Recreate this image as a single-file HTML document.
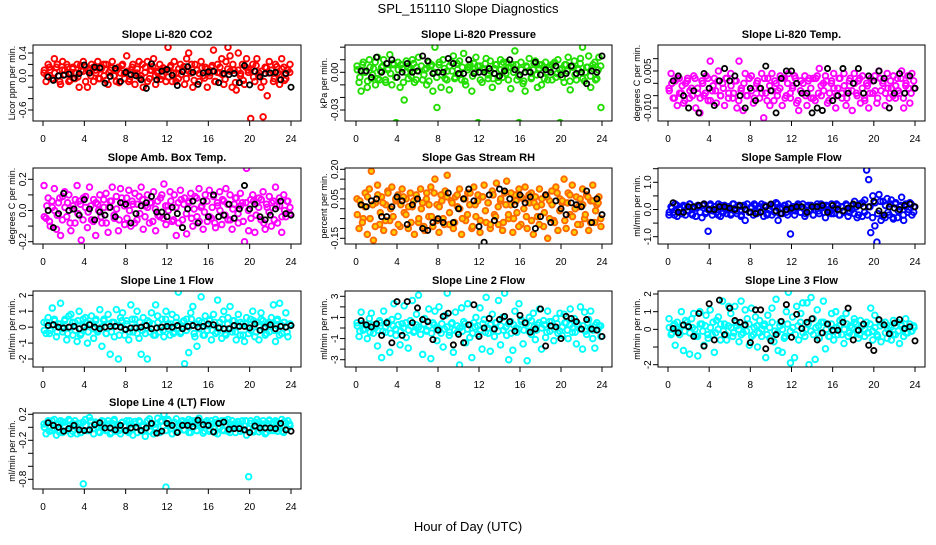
<!DOCTYPE html>
<html><head><meta charset="utf-8"><style>
html,body{margin:0;padding:0;background:#fff}
svg text{font-family:"Liberation Sans",Arial,sans-serif}
</style></head><body>
<svg id="chart" width="936" height="540" xmlns="http://www.w3.org/2000/svg">
<text x="468" y="13" text-anchor="middle" font-size="13">SPL_151110  Slope Diagnostics</text>
<text x="468" y="531" text-anchor="middle" font-size="13">Hour of Day (UTC)</text>
</svg>
<script>
const xTicks=[0,4,8,12,16,20,24];
const panelTitles=["Slope Li-820 CO2","Slope Li-820 Pressure","Slope Li-820 Temp.","Slope Amb. Box Temp.","Slope Gas Stream RH","Slope Sample Flow","Slope Line 1 Flow","Slope Line 2 Flow","Slope Line 3 Flow","Slope Line 4 (LT) Flow"];
const yTitles=["Licor ppm per min.","kPa per min.","degrees C per min.","degrees C per min.","percent per min.","ml/min per min.","ml/min per min.","ml/min per min.","ml/min per min.","ml/min per min."];
const yTickVals=[[0.4,0.2,0,-0.2,-0.4,-0.6],[0.02,0.01,0,-0.01,-0.02,-0.03],[0.01,0.005,0,-0.005,-0.01],[0.2,0.1,0,-0.1,-0.2],[0.2,0.15,0.1,0.05,0,-0.05,-0.1,-0.15],[1.5,1,0.5,0,-0.5,-1],[2,1,0,-1,-2],[3,2,1,0,-1,-2,-3],[2,1,0,-1,-2],[0.2,0,-0.2,-0.4,-0.6,-0.8]];
const yTickLabels=[["0.4","","0.0","","","-0.6"],["","","0.00","","","-0.03"],["","0.005","","","-0.010"],["0.2","","0.0","","-0.2"],["0.20","","","0.05","","","","-0.15"],["","1.0","","0.0","","-1.0"],["2","1","0","-1","-2"],["3","","1","","-1","","-3"],["2","1","0","","-2"],["0.2","","-0.2","","","-0.8"]];
const yCal=[[0.4,53,-0.6,110],[0,72.3,-0.03,110],[0.005,71,-0.01,108],[0.2,179.3,-0.2,241.7],[0.2,169.3,-0.15,238.3],[1,182.3,-1,236.7],[2,295.3,-2,359],[3,296.3,-3,359.7],[2,294,-2,364.7],[0.2,414.3,-0.8,479.3]];
const colors=["#ff0000","#22dd00","#ff00ff","#ff00ff","#ff6a00","#0000ff","#00ffff","#00ffff","#00ffff","#00ffff"];

const co2Vals=[0.05,-0.1,0.2,0.1,-0.05,0.3,0.15,0,-0.15,0.25,0.1,0.2,-0.1,0.05,0.15,-0.05,0.2,-0.2,0.1,0.25,0.15,-0.2,0.05,0.2,-0.1,0.1,0.25,-0.05,0.15,0,0.2,-0.15,0.1,0.25,0,-0.1,0.15,0.05,0.2,-0.05,0.35,-0.1,0.1,0.2,-0.15,0.05,0.25,0,-0.2,0.15,0.25,-0.05,0.1,0.3,-0.15,0.05,0.2,0,0.1,-0.1,0.5,0.15,-0.1,0.25,0.05,-0.05,0.2,0.1,-0.15,0.3,0.4,0.05,-0.2,0.2,0.1,-0.1,0.25,0,0.15,-0.2,0.05,0.15,0.45,-0.1,0.2,0.05,0.3,-0.15,0.25,0.5,0.35,-0.2,0.1,-0.25,0.4,0,0.2,-0.15,0.3,0.1,-0.75,0.2,-0.1,0.3,0.05,-0.2,-0.72,0.15,-0.35,0.25,0.1,-0.1,0.2,0.05,-0.15,0.3,0.15,-0.05,0.1,0.2];
const co2Core=[0.1,0,0.15,-0.05,0.05,0.2,-0.1,0.1,0.02,0.15,-0.08,0.12,0.05,-0.02,0.18,0.08,-0.1,0.1,0,0.15,0.05,-0.05,0.12,0.2,-0.08,0.06,0.14,0,0.1,-0.12,0.18,0.04,0.08,-0.06,0.15,0.02,0.12,-0.04,0.2,0.06,-0.1,0.1,0.16,0,0.08,-0.06,0.14,0.1,-0.02,0.18,0.05,-0.1,0.12,0.02,0.16,-0.05,0.08,0.2,-0.08,0.1,0.04,0.14,-0.04,0.12,0,0.18,-0.1,0.06,0.15,0.02,-0.06,0.12,0.08,0.2,-0.12,0.1,0.04,-0.08,0.15,0.06,0.12,-0.02,0.18,0,0.08,-0.1,0.14,0.05,0.1,-0.05,0.16,0.02,0.12,-0.08,0.1,0.06];
const co2Black=[-0.02,-0.08,0,0.01,0.03,-0.04,0.04,0.19,0.05,0.15,0.14,-0.13,-0.01,0.13,-0.1,0.06,0.02,0,-0.07,-0.22,0.21,-0.07,0.08,0.11,0.01,-0.17,0.07,0.16,0.06,-0.15,0.05,0.07,0.08,-0.12,0.04,0.02,0.04,-0.12,0.18,-0.16,0.08,-0.02,0.04,0.05,0.06,-0.07,0.04,-0.2];
const presVals=[0.005,-0.008,-0.015,0.008,0,-0.012,0.01,-0.005,0.003,-0.01,0.012,-0.006,0.004,0.01,-0.008,0.002,0.014,-0.01,0.006,-0.04,0.008,-0.012,0.003,-0.022,0.009,-0.005,0.002,0.01,-0.008,0.004,0.012,0.025,-0.006,0.002,-0.01,0.008,0.005,-0.015,0.02,-0.028,0.006,-0.012,0.01,-0.005,0.001,-0.014,0.008,0.013,-0.004,0.002,0.009,-0.006,0.015,-0.01,0.004,0.004,-0.015,0.007,0.012,-0.04,0.005,-0.008,0.002,0.011,-0.005,0.009,-0.012,0.003,0.006,-0.007,0.01,-0.004,0.002,0.008,0.004,-0.013,0.006,0.017,-0.006,-0.04,0.008,-0.009,-0.015,0.004,0.011,-0.005,0.002,0.009,-0.012,0.006,-0.01,0.004,0.008,-0.006,0.002,0.006,0.007,-0.004,0.01,-0.04,0.003,-0.008,0.006,0.012,-0.014,0.004,0.009,-0.006,0.002,0.011,0.02,-0.007,0.004,0.013,-0.012,0.003,0.008,-0.005,0.012,-0.028];
const presCore=[0.002,-0.004,0.006,0,-0.007,0.004,-0.002,0.008,-0.005,0.001,0.005,-0.006,0.003,-0.001,0.007,-0.004,0.002,0.006,-0.008,0,0.004,-0.003,0.007,-0.006,0.001,0.005,-0.002,0.003,-0.007,0.006,0,-0.004,0.008,-0.002,0.003,-0.006,0.005,0.001,-0.005,0.007,-0.001,0.004,-0.007,0.002,0.006,-0.003,0,0.005,-0.006,0.003,0.007,-0.002,0.001,-0.005,0.006,-0.004,0.002,0.008,-0.001,-0.006,0.004,0,0.006,-0.003,0.002,-0.007,0.005,0.001,-0.004,0.007,-0.002,0.003,0.006,-0.005,0,0.004,-0.006,0.008,-0.001,0.002,-0.004,0.006,0.001,-0.007,0.005,-0.002,0.003,0.007,-0.005,0,0.004,-0.003,0.006,-0.006,0.002,0.005];
const presBlack=[0.001,0.001,-0.004,0.012,0,0.007,0.01,-0.004,0,0.007,0,0.001,0.013,0.009,-0.001,0,0,0.011,0.007,-0.001,-0.001,0.01,-0.001,0,0,0.003,-0.001,-0.003,0.001,0.01,0.002,-0.002,0,0,0.008,-0.002,0.002,0,0.005,-0.002,-0.001,0.005,-0.001,0,-0.009,0.001,0,0.013];
const tempVals=[-0.002,0.004,-0.006,0.001,-0.009,0.002,-0.004,-0.008,0,0.002,-0.006,-0.002,0.003,-0.01,-0.004,-0.012,0.001,-0.005,0.003,-0.007,0.009,-0.003,0.002,-0.008,0.005,-0.005,0,-0.009,0.002,-0.004,0.004,-0.006,0.001,-0.01,0.009,-0.003,-0.011,0.004,-0.005,0.002,0.003,-0.008,-0.002,0.001,-0.006,0.004,-0.014,-0.004,0.002,-0.009,0.004,-0.007,0,-0.003,0.003,-0.009,0.002,-0.005,0.004,-0.006,-0.002,0.003,-0.008,-0.011,0.001,-0.004,0.003,-0.009,0.002,-0.006,0.002,-0.007,0.003,0.006,-0.005,0,0.003,-0.008,-0.004,0.001,0.004,-0.01,-0.002,0.002,-0.006,0.004,-0.009,-0.003,0.002,-0.011,0.004,-0.004,0.001,-0.008,0.003,-0.006,0,-0.01,0.002,-0.004,0.003,-0.008,0.005,-0.003,0.001,-0.009,0.004,-0.006,-0.002,0.003,-0.006,0.002,-0.004,0.005,-0.01,-0.001,0.003,-0.008,0.004,-0.002];
const tempCore=[-0.003,0,-0.006,0.002,-0.004,-0.001,-0.007,0.001,-0.003,-0.005,0.002,-0.002,-0.006,0,-0.004,0.002,-0.007,-0.001,-0.003,0.001,-0.005,-0.002,0.002,-0.006,-0.001,-0.004,0.001,-0.007,-0.002,0,-0.005,0.002,-0.003,-0.006,0,-0.002,-0.004,0.002,-0.007,-0.001,-0.003,0.001,-0.005,-0.002,0.002,-0.006,0,-0.004,-0.001,0.002,-0.007,-0.003,0,-0.005,0.001,-0.002,-0.006,0.002,-0.004,-0.001,-0.003,0.001,-0.007,0,-0.002,-0.005,0.002,-0.004,-0.001,-0.006,0.001,-0.003,0,-0.005,0.002,-0.002,-0.007,-0.001,-0.004,0.001,-0.003,-0.006,0.002,0,-0.004,-0.002,0.001,-0.005,-0.001,-0.003,0.002,-0.006,0,-0.002,-0.004,0.001];
const tempBlack=[0.001,0.003,-0.005,-0.01,-0.003,-0.012,0.004,-0.002,-0.009,0.001,0.006,0.001,0.003,-0.005,-0.01,-0.002,-0.007,-0.002,0.007,-0.003,-0.012,0.002,0.005,0.005,0,-0.004,-0.004,-0.012,-0.01,-0.011,0.006,-0.007,-0.005,0.006,-0.004,0,0.006,-0.004,0.003,0.001,0.005,0.002,-0.01,-0.004,0.004,-0.004,0.003,-0.002];
const ambVals=[0.16,-0.05,0.08,-0.1,0.02,0.14,-0.12,0.05,-0.16,0.09,0.12,-0.04,0.1,-0.13,0.03,-0.08,0.16,0.06,-0.19,0.08,0.02,-0.11,0.15,-0.06,0.07,-0.16,0.04,0.1,-0.08,0.02,0.11,-0.14,0.06,0.15,-0.05,0.09,-0.13,0.14,0.05,-0.09,0.08,0.13,-0.1,0.04,0.11,-0.06,0.09,0.15,-0.12,0.03,0.1,-0.08,0.05,0.12,-0.13,0.06,-0.04,0.1,0.17,-0.09,0.03,0.12,-0.07,0.1,-0.16,0.05,0.13,-0.06,0.08,-0.15,0.06,0.11,-0.1,0.09,-0.04,0.14,0.02,-0.12,0.1,-0.07,0.13,-0.05,0.09,-0.11,0.03,0.12,-0.09,0.06,0.14,-0.06,0.1,-0.12,0.04,0.08,-0.08,0.11,0.05,-0.2,0.27,-0.13,0.07,0.1,-0.14,0.05,0.08,-0.06,0.12,-0.12,0.02,0.09,-0.1,0.06,0.15,-0.08,0.03,-0.14,0.1,-0.04,0.06,0.02];
const ambCore=[-0.04,0.03,-0.07,0.06,0,-0.03,0.08,-0.06,0.02,0.05,-0.08,0.01,0.07,-0.02,0.04,-0.06,0.09,-0.01,0.03,-0.07,0.05,0,-0.04,0.07,-0.08,0.02,0.06,-0.03,0.01,-0.06,0.08,0.03,-0.05,0,0.06,-0.08,0.04,-0.02,0.07,-0.04,0.02,0.05,-0.07,0.01,-0.03,0.08,-0.05,0.03,0,0.06,-0.06,0.02,-0.08,0.07,0.04,-0.02,0.05,-0.05,0.01,0.08,-0.07,0.03,-0.01,0.06,-0.04,0.02,-0.08,0.05,0,0.07,-0.03,0.04,-0.06,0.01,0.08,-0.02,0.03,-0.07,0.05,0,-0.05,0.06,-0.03,0.02,0.07,-0.08,0.04,-0.01,0.05,-0.06,0.03,0.08,-0.04,0,0.06,-0.02];
const ambBlack=[0,-0.11,-0.02,0.11,0,0.01,-0.03,0.07,0.01,-0.06,-0.01,-0.03,0.02,-0.04,0.05,0.04,-0.08,-0.02,0.03,0.05,0.09,-0.01,-0.01,-0.04,0.02,-0.02,-0.11,0.01,0.06,-0.08,0.06,-0.04,0.1,-0.04,-0.03,0.04,-0.05,0.01,0.16,0.01,0.04,-0.04,-0.06,-0.03,0.01,0.06,-0.02,-0.03];
const rhVals=[0.05,-0.1,0.02,-0.05,0.08,-0.13,0.1,0.19,-0.16,0.03,0.12,-0.08,0.06,-0.11,0.02,0.09,-0.06,0.11,-0.12,0.04,0.07,-0.09,0.1,-0.02,0.05,-0.1,0.08,0.01,-0.13,0.06,-0.07,0.1,0.03,-0.11,0.08,-0.04,0.11,-0.09,0.15,0.02,-0.12,0.07,-0.05,0.09,0.17,-0.08,0.04,-0.1,0.06,0.01,0.1,-0.13,0.05,-0.06,0.08,0.02,-0.1,0.11,-0.04,0.07,-0.12,0.06,0.12,-0.07,0.03,-0.1,0.09,-0.03,0.13,-0.08,0.04,-0.11,0.08,0.14,-0.05,0.02,-0.12,0.07,-0.02,0.1,-0.08,0.05,0.11,-0.1,0.03,0.08,-0.13,0.06,-0.04,0.1,0.02,-0.09,0.07,-0.15,0.04,0.09,-0.06,0.11,-0.11,0.05,0.03,0.15,-0.1,0.08,-0.03,0.12,-0.12,0.06,0.01,-0.08,0.1,-0.05,0.07,-0.11,0.04,0.12,-0.07,0.02,0.06,-0.09];
const rhCore=[-0.03,0.04,-0.07,0.01,0.06,-0.05,0.02,-0.09,0.07,-0.02,0.03,-0.06,0.08,0,-0.04,0.05,-0.08,0.02,0.06,-0.03,0.01,-0.07,0.04,0.07,-0.05,0,-0.09,0.05,0.02,-0.04,0.08,-0.06,0.01,0.04,-0.08,0.06,-0.02,0.03,-0.07,0.07,0,-0.05,0.05,-0.03,0.08,-0.09,0.02,0.04,-0.06,0.06,-0.01,0.03,-0.08,0.07,-0.04,0.01,0.05,-0.07,0.02,-0.03,0.08,-0.05,0.04,-0.09,0.06,0,-0.04,0.07,-0.06,0.03,0.01,-0.08,0.05,-0.02,0.06,-0.05,0.02,-0.07,0.08,-0.01,0.04,-0.06,0.03,0.07,-0.04,0,-0.08,0.05,0.02,-0.03,0.06,-0.07,0.04,-0.01,0.03,-0.05];
const rhBlack=[0.02,0.01,0.04,0.05,-0.04,-0.04,0.01,0.06,0.04,-0.08,0.02,0.05,-0.1,-0.11,-0.07,-0.05,-0.07,0.08,-0.07,0,0.05,0.1,0.04,-0.09,-0.17,0.07,-0.06,0.1,0.09,0.05,0.02,0.07,0.03,0.06,-0.1,-0.04,0.07,-0.07,0.04,0,-0.03,0.03,0.02,0.01,0.09,-0.07,0.05,-0.03];
const sampVals=[-0.2,0.1,-0.1,0.2,-0.25,0.05,-0.15,0.15,-0.2,0.1,0.2,-0.15,0.05,-0.25,0.15,0.1,-0.3,0.2,-0.1,-0.8,0.15,-0.2,0.1,-0.1,0.2,-0.25,0.05,0.15,-0.15,0.1,-0.2,0.2,0.05,-0.15,0.15,-0.25,0.1,-0.4,0.2,-0.1,0.1,-0.2,0.15,-0.1,0.05,0.2,-0.25,0.1,-0.15,0.15,-0.2,0.1,0.25,-0.4,0.05,-0.15,0.15,-0.1,0.2,-0.9,0.1,-0.2,0.05,0.15,-0.1,0.2,-0.25,0.1,-0.05,0.15,-0.2,0.1,0.2,-0.15,0.05,0.15,-0.3,0.1,-0.1,0.2,-0.15,0.05,0.15,-0.2,0.1,-0.1,0.2,-0.25,0.05,0.15,-0.15,0.1,-0.2,0.2,0.25,-0.1,1.45,1.1,-0.85,0.5,-0.6,-1.2,0.55,-0.4,0.3,-0.3,0.4,-0.2,0.35,-0.35,0.2,-0.3,0.1,0.45,-0.4,0.2,-0.1,0.25,-0.2,0.1];
const sampCore=[-0.1,0.05,-0.2,0.15,0,-0.15,0.1,-0.05,0.2,-0.2,0.05,0.1,-0.1,0.15,-0.15,0,0.2,-0.05,0.1,-0.2,0.15,-0.1,0.05,0,-0.15,0.2,-0.05,0.1,-0.2,0.15,0,-0.1,0.05,0.2,-0.15,0.1,-0.05,0.15,-0.2,0,0.1,-0.1,0.2,-0.15,0.05,0.15,-0.2,0,0.1,-0.05,0.2,-0.1,0.05,-0.15,0.15,0,-0.2,0.1,-0.05,0.2,-0.1,0.15,0,-0.15,0.05,0.2,-0.2,0.1,-0.05,0.15,-0.1,0,0.3,-0.3,0.2,-0.25,0.35,-0.2,0.1,-0.3,0.25,-0.15,0.3,-0.25,0.15,-0.1,0.2,-0.3,0.25,-0.05,0.15,-0.2,0.1,0,0.2,-0.1];
const sampBlack=[0.25,-0.1,-0.1,0.1,0.1,0.15,0.2,0,0,0.1,0.1,0.05,0,0.15,0,-0.1,-0.15,-0.1,0.1,0.2,-0.05,-0.15,0,0.05,0.1,0.1,-0.1,0.1,0.1,0.15,-0.1,0.15,0,-0.05,0.05,0.2,0.15,0.1,0.1,0.3,-0.05,-0.2,0.1,0.05,0,0.15,0.2,0.1];
const l1Vals=[0.3,-0.4,0.6,-0.2,1.2,0.5,-0.6,0.2,1.5,-0.3,0.4,-0.8,0.7,0.8,-0.5,0.3,-0.9,1,-0.4,0.5,0.6,-1,0.2,0.7,-0.7,0.4,-0.3,1.1,-1.2,0.5,-0.4,0.8,-1.7,0.3,-0.6,1.1,-2,0.6,0.9,-0.5,0.4,-0.8,1.4,-0.3,0.5,1,-0.7,-1.7,0.6,-0.4,-2,0.3,0.9,-0.5,1.4,0.7,-0.3,0.5,-0.6,1,0.2,-0.5,0.8,-0.3,0.6,2.2,-0.4,0.3,-2.3,0.5,-1.6,0.9,1.3,-0.6,-1.2,0.4,1.9,-0.5,0.7,-0.2,0.5,-0.8,0.8,-0.4,1.7,0.3,-0.7,1,-0.5,0.6,1.3,-0.3,0.4,-0.8,0.8,-0.5,0.2,-0.9,0.6,-0.4,0.5,1,-0.6,0.3,-0.8,0.9,0.4,-0.5,0.2,-0.3,0.6,1.4,-0.9,0.5,1.5,-0.4,0.3,0.9,-0.6,0.2];
const l1Core=[-0.2,0.3,-0.4,0.1,0.4,-0.3,0.2,-0.1,0.5,-0.4,0,0.3,-0.2,0.4,-0.5,0.1,0.3,-0.3,0.2,-0.1,0.5,-0.2,0,0.4,-0.4,0.2,-0.3,0.3,0.1,-0.5,0.4,-0.1,0.2,-0.3,0.5,0,-0.4,0.3,-0.2,0.1,0.4,-0.3,0.2,-0.5,0.3,0,-0.2,0.5,-0.1,0.2,-0.4,0.3,0.1,-0.3,0.4,-0.2,0,0.5,-0.4,0.2,-0.1,0.3,-0.5,0.1,0.4,-0.2,0.3,-0.3,0,0.5,-0.4,0.2,-0.1,0.4,-0.3,0.1,0.3,-0.5,0.2,0,-0.2,0.4,-0.3,0.1,0.5,-0.1,-0.4,0.3,0.2,-0.2,0.4,-0.5,0.1,0.3,-0.3,0.2];
const l1Black=[0.1,0.15,0,-0.05,0,0.05,-0.1,0,0.15,0,-0.1,0,0.05,0.05,0,-0.15,-0.05,-0.05,0,0.1,-0.1,-0.05,0,0.05,0,0.1,-0.1,0.05,0.1,0,0.05,0.2,0.15,-0.05,-0.1,-0.1,0.1,0.05,0.05,-0.05,0.2,-0.2,0,0.15,-0.1,0.05,0,0.1];
const l2Vals=[0.5,-0.8,1.5,-0.2,0.3,-1,0.9,1.4,-0.5,0.2,-1.7,0.7,-2.8,1.6,-0.4,0.6,-2.3,0.8,2.3,-0.7,1.1,-1.6,0.4,2.1,-0.9,-1.9,0.7,2.6,-0.3,1.3,3.1,-0.6,-2.5,0.9,-0.2,1.8,-2.9,0.5,1.6,-1.2,2,-0.5,-1.8,1.2,3.3,-0.7,0.4,-2.3,1.5,-0.4,-3.5,1.9,0.6,-1.4,2.3,-0.9,-2.8,0.5,1,-0.6,1.9,-2,0.8,2.9,-0.5,-2.2,1.3,-0.8,0.5,2.6,-1.6,1,3.3,-0.7,-3,0.6,-2.1,1.6,-0.4,2.3,0.8,-1.5,0.4,-3.1,1,-0.6,1.4,-1.1,0.3,1.8,-2,0.7,-0.9,1.6,-0.3,0.6,-1.2,0.9,-0.5,1.4,-0.7,1.3,0.5,-1,1.8,-0.4,0.9,-1.5,0.3,2,-2,1.5,-0.6,0.8,1.6,-1,-1.9,0.5,0.2,-0.8];
const l2Core=[0.2,-0.3,0.4,-0.1,0.1,-0.4,0.3,0,-0.2,0.5,-0.3,0.1,0.4,-0.5,0.2,-0.1,0.3,-0.3,0,0.5,-0.2,0.2,-0.4,0.3,0.1,-0.1,0.4,-0.3,0.2,-0.5,0.3,0,-0.2,0.4,-0.1,0.1,-0.4,0.5,-0.2,0.2,0,-0.3,0.4,-0.1,0.3,-0.5,0.1,0.2,-0.2,0.4,-0.4,0,0.3,-0.1,0.5,-0.3,0.2,-0.2,0.1,0.4,-0.5,0.3,0,-0.1,0.6,-0.2,0.4,-0.3,0.7,0.1,-0.2,0.5,0,0.3,-0.4,0.6,0.2,-0.1,0.4,-0.3,0.1,0.5,-0.2,0.3,0,-0.4,0.4,-0.1,0.2,-0.3,0.5,0,-0.2,0.3,-0.1,0.2];
const l2Black=[0.7,0.3,0.1,0.4,-0.7,0.5,-1.4,2.5,-0.7,2.5,0.5,1.9,0.8,0.6,-1.1,-0.2,1.1,1.4,-1.6,-0.6,-1.4,0.3,2.2,-0.8,0,0.9,-0.1,0.8,1.1,0.6,-0.3,1.2,0.5,-0.4,-0.1,1.8,-1.7,0.2,0.1,-1,1.1,0.9,0.6,-0.1,0.8,-0.1,-0.2,-0.8];
const l3Vals=[0.6,-0.3,0.2,-0.9,0.4,-0.1,1,-1.2,0.5,0.2,-1.4,0.6,0.9,-0.4,-1.5,1,0.3,-0.9,0.8,-0.5,1.1,-0.3,-1.3,0.5,0.7,-0.6,1.6,0.3,-0.6,1.3,0.9,-0.4,1.3,0.2,-0.7,1.6,-0.2,1.1,0.6,-0.9,1.2,-0.3,0.7,-1,0.5,-0.4,0.2,-1.6,0.8,-0.5,1.2,-0.7,1.7,-1.2,0.4,-1.3,-0.5,1,2.1,-1.9,0.7,-1.6,1.3,-0.6,0.9,1.5,-0.4,1.5,-2,1.8,0.6,-1.7,1.1,-0.5,0.4,1.6,-1.1,0.3,-0.4,0.9,-0.6,1,-0.3,0.5,0.6,-0.8,0.9,-0.4,0.2,-0.3,0.6,0.3,-0.5,0.5,0.2,-0.4,0.4,-0.2,1.2,-0.6,0.8,-0.3,0.5,-0.7,0.3,0.4,-0.5,0.2,-0.6,0.5,-0.3,0.4,-0.8,0.2,-0.4,0.6,-0.2,0.3,-0.1,0.1];
const l3Core=[0.1,-0.2,0.3,0,-0.3,0.2,-0.1,0.4,-0.2,0.1,0,-0.4,0.3,-0.1,0.2,-0.3,0.1,0.4,-0.2,0,0.3,-0.1,-0.3,0.2,0.1,-0.2,0.4,0,-0.3,0.2,-0.1,0.3,-0.4,0.1,0.2,-0.2,0,0.3,-0.3,0.1,0.4,-0.1,-0.2,0.2,0,-0.4,0.3,-0.1,0.1,-0.3,0.2,0.4,-0.2,0,0.3,-0.1,-0.3,0.1,0.2,-0.2,0.4,0,-0.4,0.3,-0.1,0.1,0.2,-0.3,0,0.3,-0.2,0.1,0.4,-0.1,-0.3,0.2,0,-0.2,0.3,-0.1,0.1,-0.4,0.2,0.3,-0.2,0,0.1,-0.3,0.2,-0.1,0.3,0,-0.2,0.1,-0.1,0.2];
const l3Black=[0.05,-0.2,0.25,0.15,-0.4,0.9,-0.95,1.45,-0.6,1.65,-0.3,1.2,0.5,0.4,0.25,-0.75,1.1,1.1,-1.1,-0.65,-0.3,0.45,1.4,-0.45,0.85,0.05,0.4,0.6,-0.6,-0.2,0.3,-0.05,-0.05,0.4,1.2,-0.6,-0.05,0.3,-0.9,-1.2,0.55,0.25,-0.25,0.35,0.55,0.05,0.15,-0.65];
const l4Vals=[0.05,-0.1,0.1,0,-0.05,0.12,-0.12,0.05,0.1,-0.08,0.08,-0.05,0.12,-0.1,0.02,0.1,-0.1,0.06,-0.08,-0.87,0.12,-0.05,0.15,0.02,-0.1,0.08,0,-0.08,0.1,0.03,-0.05,0.1,-0.1,0.06,0.12,-0.06,0.04,-0.1,0.08,0.02,0.1,-0.08,0.05,-0.12,0.09,0,0.1,-0.06,0.03,-0.14,0.1,0.13,0.05,-0.1,0.05,0.14,-0.08,0.1,0.2,-0.92,0.12,0.02,-0.1,0.08,0.13,-0.06,0.05,0.1,-0.04,0.08,0.12,-0.08,0.06,0.1,-0.05,0.14,0.02,-0.09,0.08,0.05,-0.06,0.1,0,0.12,-0.1,0.07,0.1,-0.05,0.04,0.12,-0.08,0.1,0.05,0.05,0.08,-0.06,0.1,0.02,-0.12,-0.76,0.1,-0.05,0.08,0.12,-0.07,0.03,0.1,-0.1,0.06,0.11,-0.05,0.08,0.1,-0.06,0.04,0.12,-0.08,0.06,0.1,0.02];
const l4Core=[0,0.06,-0.06,0.1,-0.02,0.04,-0.08,0.08,0.02,-0.04,0.1,-0.06,0.05,0,-0.08,0.08,0.03,-0.05,0.1,-0.02,0.06,-0.07,0.02,0.09,-0.04,0.05,-0.08,0.1,0,-0.05,0.07,0.02,-0.06,0.1,-0.03,0.05,-0.08,0.08,0.01,-0.04,0.1,-0.06,0.04,0,-0.08,0.09,0.02,-0.05,0.1,-0.02,0.06,-0.07,0.03,0.09,-0.04,0.05,-0.08,0.1,0.01,-0.05,0.07,0.02,-0.06,0.1,-0.03,0.05,-0.08,0.08,0,-0.04,0.1,-0.06,0.04,0.02,-0.08,0.09,0.01,-0.05,0.1,-0.02,0.06,-0.07,0.03,0.08,-0.04,0.05,-0.08,0.1,0,-0.05,0.07,0.02,-0.06,0.09,-0.03,0.05];
const l4Black=[0.07,0.03,0,-0.06,-0.02,0.03,-0.04,-0.05,-0.04,0.04,0.07,-0.01,-0.01,-0.04,0.03,-0.05,-0.01,0,-0.05,-0.01,0.06,-0.09,-0.06,0.06,0.03,-0.08,0.03,0.03,0.01,0.11,0.04,0.03,-0.07,0.06,0.08,-0.03,-0.02,-0.02,-0.04,-0.08,0.02,-0.01,-0.01,-0.01,-0.02,0.06,-0.04,-0.06];

const seriesVals=[co2Vals,presVals,tempVals,ambVals,rhVals,sampVals,l1Vals,l2Vals,l3Vals,l4Vals];
const seriesCore=[co2Core,presCore,tempCore,ambCore,rhCore,sampCore,l1Core,l2Core,l3Core,l4Core];
const seriesBlack=[co2Black,presBlack,tempBlack,ambBlack,rhBlack,sampBlack,l1Black,l2Black,l3Black,l4Black];

const NS="http://www.w3.org/2000/svg";
const svg=document.getElementById('chart');
const colBox=[[33,301,43,291],[345,612,356,602],[658,925,668,915]];
const rowTop=[45,168,291,413];
function mk(tag,attrs,parent){const e=document.createElementNS(NS,tag);for(const k in attrs)e.setAttribute(k,attrs[k]);(parent||svg).appendChild(e);return e;}
function slug(s){return s.toLowerCase().replace(/[^a-z0-9]+/g,'-').replace(/^-|-$/g,'');}

panelTitles.forEach((title,p)=>{
  const c=p%3,r=Math.floor(p/3);
  const [bl,br,x0,x24]=colBox[c];
  const top=rowTop[r],bot=top+76;
  const xs=h=>x0+(x24-x0)*h/24;
  const [va,pa,vb,pb]=yCal[p];
  const ys=v=>pa+(v-va)*(pb-pa)/(vb-va);
  const g=mk('g',{});
  
  
  const t=mk('text',{x:(bl+br)/2,y:top-7,'text-anchor':'middle','font-size':11,'font-weight':'bold'},g);
  t.textContent=title;
  
  
  const yt=mk('text',{x:0,y:0,'text-anchor':'middle','font-size':9,transform:`translate(${bl-18},${(top+bot)/2}) rotate(-90)`},g);
  yt.textContent=yTitles[p];
  
  
  const xa=mk('g',{stroke:'#000','stroke-width':1},g);
  
  
  mk('line',{x1:xs(0),x2:xs(24),y1:bot,y2:bot},xa);
  xTicks.forEach(v=>{
    mk('line',{x1:xs(v),x2:xs(v),y1:bot,y2:bot+5},xa);
    const lt=mk('text',{x:xs(v),y:bot+21,'text-anchor':'middle','font-size':10,stroke:'none'},xa);
    lt.textContent=v;
    
    
  });
  const ya=mk('g',{stroke:'#000','stroke-width':1},g);
  
  
  const tv=yTickVals[p];
  mk('line',{x1:bl,x2:bl,y1:ys(tv[0]),y2:ys(tv[tv.length-1])},ya);
  tv.forEach((v,i)=>{
    mk('line',{x1:bl-5,x2:bl,y1:ys(v),y2:ys(v)},ya);
    if(yTickLabels[p][i]){
      const lt=mk('text',{x:0,y:0,'text-anchor':'middle','font-size':10,stroke:'none',transform:`translate(${bl-7},${ys(v)}) rotate(-90)`},ya);
      lt.textContent=yTickLabels[p][i];
      
      
    }
  });
  const cid='clip'+p;
  const cp=mk('clipPath',{id:cid},g);
  mk('rect',{x:bl,y:top,width:br-bl,height:bot-top},cp);
  const pts=mk('g',{'clip-path':`url(#${cid})`},g);
  
  
  const isRH=p===4;
  [seriesVals[p],seriesCore[p]].forEach(vals=>{
    vals.forEach((v,i)=>{
      const h=(i+0.5)*24/vals.length;
      const pt=mk('circle',{cx:xs(h),cy:ys(v),r:2.8,fill:isRH?'#ffd000':'none',stroke:colors[p],'stroke-width':1.9},pts);
      
      
    });
  });
  const bk=seriesBlack[p];
  bk.forEach((v,i)=>{
    const h=(i+1)*24/bk.length;
    const pt=mk('circle',{cx:xs(h),cy:ys(v),r:2.6,fill:'none',stroke:'#000','stroke-width':1.8},pts);
    
    
  });
  const box=mk('rect',{x:bl,y:top,width:br-bl,height:bot-top,fill:'none',stroke:'#000','stroke-width':1},g);
  
  
});
</script>
</body></html>
